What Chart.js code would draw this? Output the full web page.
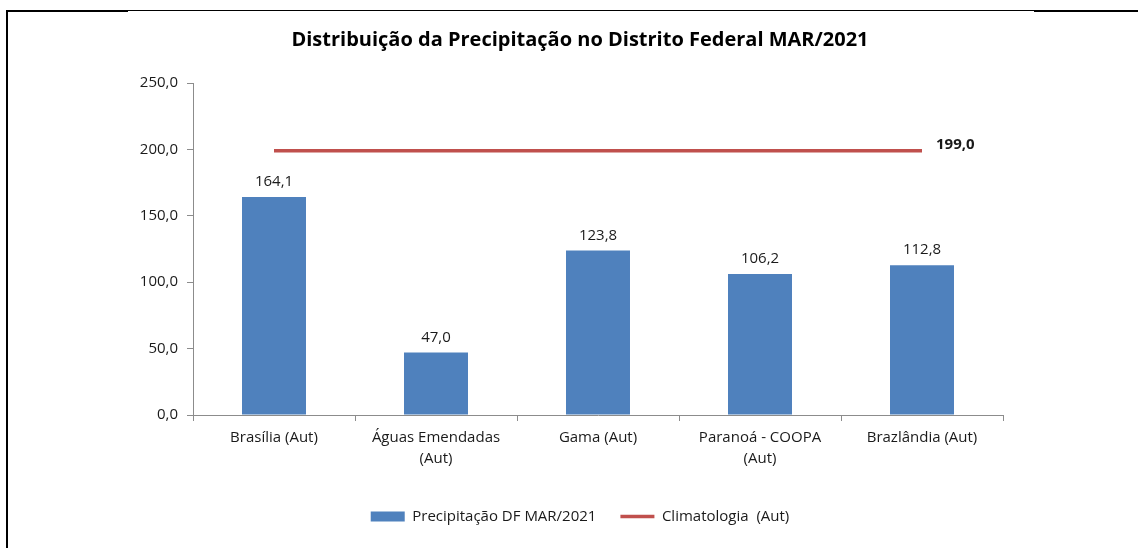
<!DOCTYPE html>
<html>
<head>
<meta charset="utf-8">
<script src="https://cdn.jsdelivr.net/npm/chart.js@4.4.0/dist/chart.umd.min.js"></script>
<style>
html,body{margin:0;padding:0;background:#fff;}
#wrap{position:relative;width:1138px;height:548px;}
</style>
</head>
<body>
<div id="wrap"><canvas id="c" width="1138" height="548"></canvas></div>
<script>
const categories = [
  "Brasília (Aut)",
  ["Águas Emendadas", "(Aut)"],
  "Gama (Aut)",
  ["Paranoá - COOPA", "(Aut)"],
  "Brazlândia (Aut)"
];
const precipitacao = [164.1, 47.0, 123.8, 106.2, 112.8];
const climatologia = [199.0, 199.0, 199.0, 199.0, 199.0];
const yTicks = [0, 50, 100, 150, 200, 250];
const seriesNames = ["Precipitação DF MAR/2021", "Climatologia  (Aut)"];
const titleText = "Distribuição da Precipitação no Distrito Federal MAR/2021";

const BAR_COLOR = "#4F81BD";
const LINE_COLOR = "#C0504D";
const AXIS_COLOR = "#8C8C8C";
const TEXT_COLOR = "#1a1a1a";
const FONT = "'Open Sans', 'Liberation Sans', sans-serif";
const fmt = v => v.toFixed(1).replace('.', ',');

const framePlugin = {
  id: 'frame',
  beforeDraw(chart) {
    const ctx = chart.ctx;
    ctx.save();
    ctx.fillStyle = '#fff';
    ctx.fillRect(0, 0, chart.width, chart.height);
    ctx.fillStyle = '#000';
    ctx.fillRect(6, 10, 2, 538);
    ctx.fillRect(6, 10, 122, 2);
    ctx.fillRect(128, 10, 906, 1);
    ctx.fillRect(1034, 10, 104, 2);
    ctx.restore();
  }
};

const labelPlugin = {
  id: 'valueLabels',
  afterDatasetsDraw(chart) {
    const ctx = chart.ctx;
    ctx.save();
    ctx.fillStyle = TEXT_COLOR;
    ctx.textBaseline = 'middle';
    const barMeta = chart.getDatasetMeta(0);
    ctx.font = "15px " + FONT;
    ctx.textAlign = 'center';
    barMeta.data.forEach((el, i) => {
      ctx.fillText(fmt(precipitacao[i]), el.x, el.y - 15);
    });
    const lineMeta = chart.getDatasetMeta(1);
    const last = lineMeta.data[lineMeta.data.length - 1];
    ctx.font = "bold 15px " + FONT;
    ctx.textAlign = 'left';
    ctx.fillText(fmt(climatologia[climatologia.length - 1]), last.x + 14, last.y - 6);
    ctx.restore();
  }
};

new Chart(document.getElementById('c'), {
  type: 'bar',
  data: {
    labels: categories,
    datasets: [
      {
        label: seriesNames[0],
        data: precipitacao,
        backgroundColor: BAR_COLOR,
        borderWidth: 0,
        categoryPercentage: 1.0,
        barPercentage: 0.395
      },
      {
        type: 'line',
        label: seriesNames[1],
        data: climatologia,
        borderColor: LINE_COLOR,
        backgroundColor: LINE_COLOR,
        borderWidth: 3.5,
        pointRadius: 0,
        fill: false
      }
    ]
  },
  options: {
    responsive: false,
    animation: false,
    devicePixelRatio: 1,
    layout: { padding: { left: 22, right: 0, top: 12, bottom: 14 } },
    plugins: {
      tooltip: { enabled: false },
      title: {
        display: true,
        text: titleText,
        color: '#000',
        font: { family: FONT, size: 20, weight: 'bold', lineHeight: 1.2 },
        padding: { top: 16, bottom: 31 }
      },
      legend: {
        position: 'bottom',
        maxHeight: 65,
        labels: {
          color: TEXT_COLOR,
          font: { family: FONT, size: 15 },
          usePointStyle: true,
          pointStyleWidth: 34,
          boxHeight: 10,
          padding: 24,
          sort: (a, b) => a.datasetIndex - b.datasetIndex,
          generateLabels(chart) {
            const items = Chart.defaults.plugins.legend.labels.generateLabels(chart);
            items.forEach(it => {
              if (it.datasetIndex === 0) {
                it.pointStyle = 'rect';
                it.lineWidth = 0;
                it.fillStyle = BAR_COLOR;
                it.strokeStyle = BAR_COLOR;
              } else {
                it.pointStyle = 'line';
                it.lineWidth = 3.5;
                it.strokeStyle = LINE_COLOR;
              }
            });
            return items;
          }
        }
      }
    },
    scales: {
      x: {
        offset: true,
        grid: { display: true, drawOnChartArea: false, drawTicks: true, tickLength: 6, color: AXIS_COLOR, offset: true },
        border: { display: true, color: AXIS_COLOR, width: 1 },
        ticks: { color: TEXT_COLOR, font: { family: FONT, size: 15, lineHeight: 1.4 }, padding: 6, maxRotation: 0, autoSkip: false },
        afterFit(s) { s.height = 70; }
      },
      y: {
        min: 0,
        max: 250,
        afterBuildTicks(s) { s.ticks = yTicks.map(v => ({ value: v })); },
        grid: { display: true, drawOnChartArea: false, drawTicks: true, tickLength: 6, color: AXIS_COLOR },
        border: { display: true, color: AXIS_COLOR, width: 1 },
        ticks: { color: TEXT_COLOR, font: { family: FONT, size: 15 }, padding: 9, callback: v => fmt(v) },
        afterFit(s) { s.width = 171; }
      },
      y2: {
        position: 'right',
        display: true,
        grid: { display: false, drawTicks: false },
        border: { display: false },
        ticks: { display: false },
        afterFit(s) { s.width = 135; }
      }
    }
  },
  plugins: [framePlugin, labelPlugin]
});
</script>
</body>
</html>
